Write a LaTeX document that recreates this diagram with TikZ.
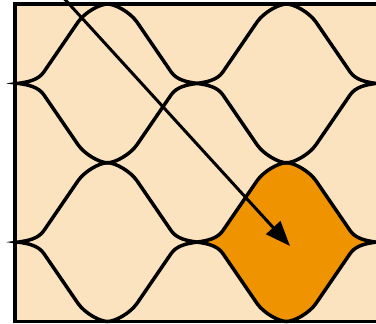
\documentclass[tikz,border=0pt]{standalone}
\usetikzlibrary{arrows.meta}
\definecolor{lightbg}{HTML}{FCE3BF}
\definecolor{orangefill}{HTML}{EF9300}
\tikzset{
  outline/.style={line width=3.5pt, draw=black, line join=miter, miter limit=10},
  arrowline/.style={line width=3pt, draw=black, -{Triangle[length=25pt,width=19pt]}}
}
% lens outline in local coordinates (centre at origin)
\newcommand{\lensshape}{%
  (-89.5,0) .. controls (-79.5,1.4) and (-69.2,3.3) .. (-63.6,11.5)
  -- (-29.5,61.3) .. controls (-22.6,71.2) and (-7.6,79.4) .. (0,79.4)
  .. controls (7.6,79.4) and (22.6,71.2) .. (29.5,61.3)
  -- (63.6,11.5) .. controls (69.2,3.3) and (79.5,1.4) .. (89.5,0)
  .. controls (79.5,-1.4) and (69.2,-3.3) .. (63.6,-11.5)
  -- (29.5,-61.3) .. controls (22.6,-71.2) and (7.6,-79.4) .. (0,-79.4)
  .. controls (-7.6,-79.4) and (-22.6,-71.2) .. (-29.5,-61.3)
  -- (-63.6,-11.5) .. controls (-69.2,-3.3) and (-79.5,-1.4) .. cycle}
\begin{document}
\begin{tikzpicture}[x=1pt,y=-1pt]
  \useasboundingbox (0,0) rectangle (376,324);
  \clip (0,0) rectangle (376,324);
  % background panel
  \fill[lightbg] (15,4) rectangle (420,321.5);
  % highlighted lens
  \begin{scope}[shift={(286.5,242.1)}]
    \fill[orangefill] \lensshape;
  \end{scope}
  % lens outlines
  \begin{scope}[shift={(107.5,83.4)}] \draw[outline] \lensshape; \end{scope}
  \begin{scope}[shift={(286.5,83.4)}] \draw[outline] \lensshape; \end{scope}
  \begin{scope}[shift={(107.5,242.1)}] \draw[outline] \lensshape; \end{scope}
  \begin{scope}[shift={(286.5,242.1)}] \draw[outline] \lensshape; \end{scope}
  % frame
  \draw[line width=3.5pt] (15,4) rectangle (420,321.5);
  % arrow
  \coordinate (arrowstart) at (60,-6);
  \coordinate (arrowend) at (290,246);
  \draw[arrowline] (arrowstart) -- (arrowend);
\end{tikzpicture}
\end{document}
